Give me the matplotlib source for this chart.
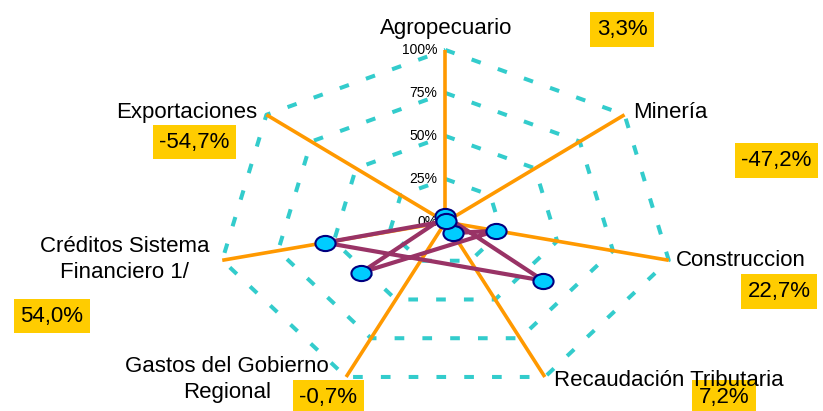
import numpy as np
import matplotlib
matplotlib.use("Agg")
import matplotlib.pyplot as plt
from matplotlib.path import Path
from matplotlib.transforms import Affine2D, offset_copy

plt.rcParams["font.family"] = ["Liberation Sans", "DejaVu Sans"]

# ---------------- data ----------------
categories = ["Agropecuario", "Minería", "Construccion", "Recaudación Tributaria",
              "Gastos del Gobierno\nRegional", "Créditos Sistema\nFinanciero 1/", "Exportaciones"]
values = [3.3, -47.2, 22.7, 7.2, -0.7, 54.0, -54.7]          # % variation
ring_levels = [25, 50, 75, 100]
tick_levels = [0, 25, 50, 75, 100]
tick_labels = ["0%", "25%", "50%", "75%", "100%"]

# ---------------- layout ----------------
W, H = 823, 411
CX, CY, RX, RY = 445.5, 222, 229, 172      # centre and radii (pixels)
# category label anchors (pixel x, first-line baseline y, alignment)
label_pos = [(446, 34, "center"), (633, 118, "left"), (676, 266, "left"),
             (554, 386, "left"), (227, 372, "center"), (124.5, 252, "center"),
             (257, 118, "right")]
# value box centres (pixel)
box_pos = [(622, 29.5), (776.5, 160.5), (779, 291.5), (724, 397.5),
           (328.5, 397.5), (52, 316), (194.5, 142)]

fig = plt.figure(figsize=(W / 100, H / 100), dpi=100)
ax = fig.add_axes([0, 0, 1, 1])
ax.axis("off")
ax.set_xlim(-CX / RX, (W - CX) / RX)
ax.set_ylim(-(H - CY) / RY, CY / RY)


def px(x, y):
    return (x - CX) / RX, (CY - y) / RY


n = len(categories)
theta = np.pi / 2 - 2 * np.pi * np.arange(n) / n
cs, sn = np.cos(theta), np.sin(theta)

# grid rings
for lvl in ring_levels:
    r = lvl / 100
    ax.plot(np.append(r * cs, r * cs[0]), np.append(r * sn, r * sn[0]),
            color="#33CCCC", lw=2.9, linestyle=(0, (2.4, 4.5)),
            dash_capstyle="butt", zorder=1)

# spokes
for i in range(n):
    ax.plot([0, cs[i]], [0, sn[i]], color="#FF9900", lw=2.6,
            solid_capstyle="butt", zorder=2)

# radial tick labels
tr = offset_copy(ax.transData, fig=fig, x=-8, y=0, units="dots")
for lvl, lab in zip(tick_levels, tick_labels):
    ax.text(0, lvl / 100, lab, transform=tr, ha="right", va="center",
            fontsize=10, zorder=3)

# data series
r = np.array(values) / 100
xs, ys = r * cs, r * sn
ax.plot(np.append(xs, xs[0]), np.append(ys, ys[0]), color="#993366",
        lw=3, zorder=4)
ellipse = Path.unit_circle().transformed(Affine2D().scale(1.33, 1.0))
ax.plot(xs, ys, ls="none", marker=ellipse, ms=14.5, mfc="#00CCFF",
        mec="#000080", mew=1.5, zorder=5)

# category labels
for cat, (lx, ly, ha) in zip(categories, label_pos):
    for k, line in enumerate(cat.split("\n")):
        x, y = px(lx, ly + 25.5 * k)
        ax.text(x, y, line, ha=ha, va="baseline", fontsize=16, zorder=7)

# value boxes
for v, (bx, by) in zip(values, box_pos):
    x, y = px(bx, by)
    ax.text(x, y, f"{v:.1f}%".replace(".", ","), ha="center", va="center",
            fontsize=16, zorder=6,
            bbox=dict(boxstyle="square,pad=0.3", fc="#FFCC00", ec="none"))

fig.savefig("out.png", dpi=100, facecolor="white")
